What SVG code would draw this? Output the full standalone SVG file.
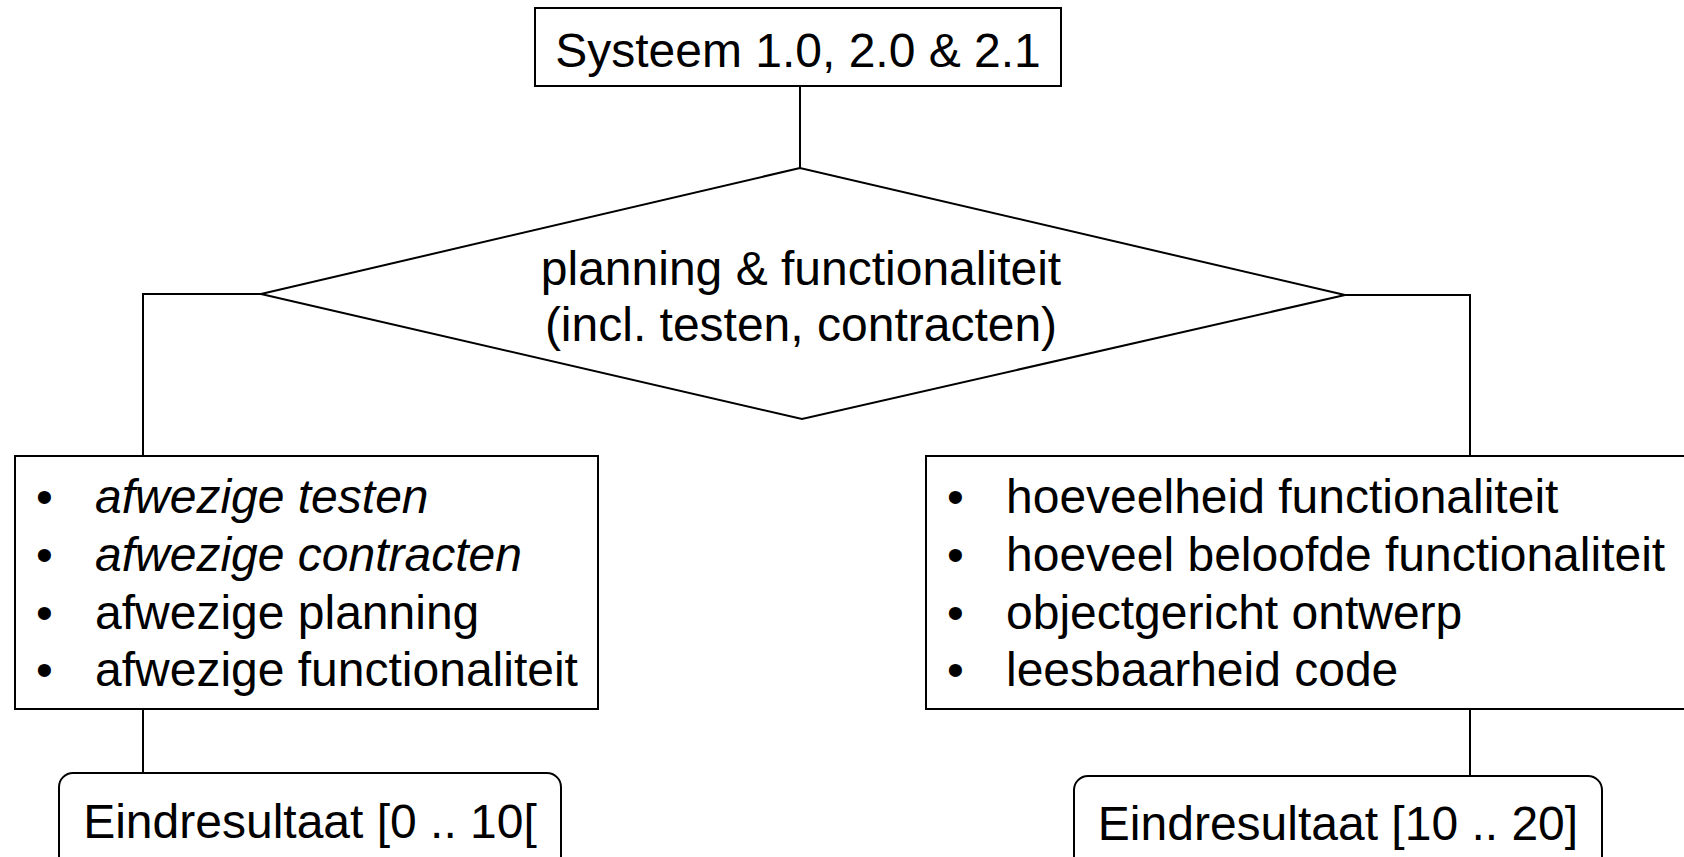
<svg xmlns="http://www.w3.org/2000/svg" width="1684" height="857" viewBox="0 0 1684 857">
<style>
.box{fill:#fff;stroke:#000;stroke-width:2}
.ln{fill:none;stroke:#000;stroke-width:2}
text{font-family:"Liberation Sans",Arial,sans-serif;font-size:48px;fill:#000}
.it{font-style:italic}
.mid{text-anchor:middle}
</style>
<rect width="1684" height="857" fill="#fff"/>
<g id="connectors">
<line class="ln" x1="800" y1="86" x2="800" y2="168"/>
<polyline class="ln" points="261,294 143,294 143,456"/>
<polyline class="ln" points="1345,295 1470,295 1470,456"/>
<line class="ln" x1="143" y1="709" x2="143" y2="774"/>
<line class="ln" x1="1470" y1="709" x2="1470" y2="776"/>
</g>
<g id="n-systeem">
<rect class="box" x="535" y="8" width="526" height="78"/>
<text class="mid" x="798" y="67">Systeem 1.0, 2.0 &amp; 2.1</text>
</g>
<g id="n-decision">
<polygon class="box" points="800,168 261,294 802,419 1345,295"/>
<text class="mid" x="801" y="285">planning &amp; functionaliteit</text>
<text class="mid" x="801" y="341">(incl. testen, contracten)</text>
</g>
<g id="n-left">
<rect class="box" x="15" y="456" width="583" height="253"/>
<text x="36" y="513">•</text><text class="it" x="95" y="513">afwezige testen</text>
<text x="36" y="571">•</text><text class="it" x="95" y="571">afwezige contracten</text>
<text x="36" y="629">•</text><text x="95" y="629">afwezige planning</text>
<text x="36" y="686">•</text><text x="95" y="686">afwezige functionaliteit</text>
</g>
<g id="n-right">
<rect class="box" x="926" y="456" width="770" height="253"/>
<text x="947" y="513">•</text><text x="1006" y="513">hoeveelheid functionaliteit</text>
<text x="947" y="571">•</text><text x="1006" y="571">hoeveel beloofde functionaliteit</text>
<text x="947" y="629">•</text><text x="1006" y="629">objectgericht ontwerp</text>
<text x="947" y="686">•</text><text x="1006" y="686">leesbaarheid code</text>
</g>
<g id="n-result-low">
<rect class="box" x="59" y="773" width="502" height="110" rx="14"/>
<text class="mid" x="310" y="838">Eindresultaat [0 .. 10[</text>
</g>
<g id="n-result-high">
<rect class="box" x="1074" y="776" width="528" height="110" rx="14"/>
<text class="mid" x="1338" y="840">Eindresultaat [10 .. 20]</text>
</g>
</svg>
